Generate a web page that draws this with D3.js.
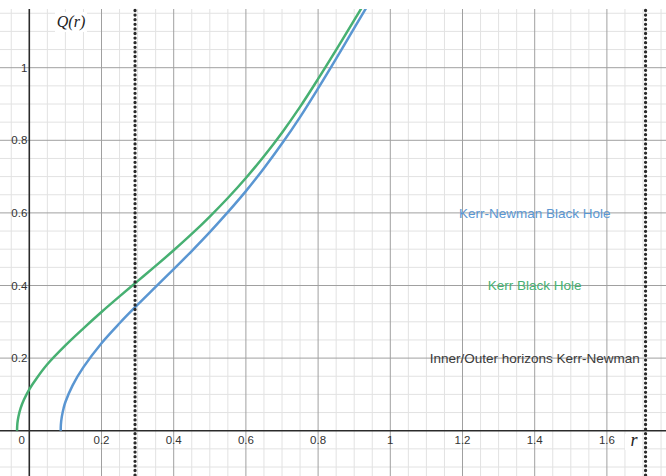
<!DOCTYPE html>
<html>
<head>
<meta charset="utf-8">
<script src="https://cdn.jsdelivr.net/npm/d3@7"></script>
<style>
  html, body { margin: 0; padding: 0; background: #fff; }
  svg { display: block; }
</style>
</head>
<body>
<svg id="chart" width="666" height="476"></svg>
<script>
// ---- data ----
const kerrR  = [-0.034, -0.033, -0.030, -0.024, -0.015, 0.000, 0.020, 0.050, 0.100, 0.150, 0.200, 0.250, 0.300, 0.350, 0.400, 0.450, 0.500, 0.550, 0.600, 0.650, 0.700, 0.750, 0.800, 0.850, 0.900, 0.940];
const kerrQ  = [0.000, 0.020, 0.039, 0.062, 0.085, 0.114, 0.144, 0.183, 0.235, 0.282, 0.327, 0.370, 0.412, 0.454, 0.497, 0.542, 0.590, 0.641, 0.696, 0.756, 0.821, 0.892, 0.969, 1.049, 1.131, 1.197];
const knR    = [0.087, 0.0875, 0.090, 0.095, 0.100, 0.120, 0.150, 0.200, 0.250, 0.300, 0.350, 0.400, 0.450, 0.500, 0.550, 0.600, 0.650, 0.700, 0.750, 0.800, 0.850, 0.900, 0.940];
const knQ    = [0.000, 0.017, 0.038, 0.062, 0.079, 0.125, 0.175, 0.241, 0.296, 0.347, 0.396, 0.445, 0.495, 0.547, 0.602, 0.660, 0.723, 0.791, 0.864, 0.943, 1.025, 1.109, 1.176];
const horizons = [0.2929, 1.7071];
const xTicks = [0.2, 0.4, 0.6, 0.8, 1, 1.2, 1.4, 1.6];
const yTicks = [0.2, 0.4, 0.6, 0.8, 1];
const noteText  = ["Kerr-Newman Black Hole", "Kerr Black Hole", "Inner/Outer horizons Kerr-Newman"];
const noteR     = [1.4, 1.4, 1.4];
const noteQ     = [0.6, 0.4, 0.2];
const noteColor = ["#5a96d2", "#47b072", "#3a3a3a"];

// ---- layout ----
const W = 666, H = 476;
const plotTop = 9;
const x0px = 29.3, y0px = 430.7;
const kx = 361, ky = 363;
const x = d3.scaleLinear().domain([-x0px / kx, (W - x0px) / kx]).range([0, W]);
const y = d3.scaleLinear().domain([(y0px - H) / ky, (y0px - plotTop) / ky]).range([H, plotTop]);

const svg = d3.select("#chart");
const g = svg.append("g");

// grid
const minorX = d3.range(-0.05, 1.76, 0.05).map(v => +v.toFixed(2));
const minorY = d3.range(-0.1, 1.16, 0.05).map(v => +v.toFixed(2));
const isMajor = v => Math.abs(v / 0.2 - Math.round(v / 0.2)) < 1e-6 && Math.abs(v) > 1e-6;

g.append("g").selectAll("line").data(minorX.filter(v => !isMajor(v) && Math.abs(v) > 1e-6)).join("line")
  .attr("x1", d => x(d)).attr("x2", d => x(d)).attr("y1", plotTop).attr("y2", H)
  .attr("stroke", "#e2e2e2").attr("stroke-width", 1);
g.append("g").selectAll("line").data(minorY.filter(v => !isMajor(v) && Math.abs(v) > 1e-6)).join("line")
  .attr("y1", d => y(d)).attr("y2", d => y(d)).attr("x1", 0).attr("x2", W)
  .attr("stroke", "#e2e2e2").attr("stroke-width", 1);
g.append("g").selectAll("line").data(minorX.filter(isMajor)).join("line")
  .attr("x1", d => x(d)).attr("x2", d => x(d)).attr("y1", plotTop).attr("y2", H)
  .attr("stroke", "#a0a0a0").attr("stroke-width", 1);
g.append("g").selectAll("line").data(minorY.filter(isMajor)).join("line")
  .attr("y1", d => y(d)).attr("y2", d => y(d)).attr("x1", 0).attr("x2", W)
  .attr("stroke", "#a0a0a0").attr("stroke-width", 1);

// axes
g.append("line").attr("x1", 0).attr("x2", W).attr("y1", y(0)).attr("y2", y(0))
  .attr("stroke", "#2b2b2b").attr("stroke-width", 1.6);
g.append("line").attr("x1", x(0)).attr("x2", x(0)).attr("y1", plotTop).attr("y2", H)
  .attr("stroke", "#2b2b2b").attr("stroke-width", 1.6);

// tick labels
const tickFont = "Arial, 'Liberation Sans', sans-serif";
g.append("g").selectAll("text").data(xTicks).join("text")
  .attr("x", d => x(d)).attr("y", y(0) + 13)
  .attr("text-anchor", "middle").attr("font-family", tickFont).attr("font-size", 11.5)
  .attr("fill", "#333").text(d => d3.format("~g")(d));
g.append("text").attr("x", x(0) - 7.5).attr("y", y(0) + 13)
  .attr("text-anchor", "middle").attr("font-family", tickFont).attr("font-size", 11.5)
  .attr("fill", "#333").text("0");
g.append("g").selectAll("text").data(yTicks).join("text")
  .attr("x", x(0) - 2).attr("y", d => y(d)).attr("dy", "0.35em")
  .attr("text-anchor", "end").attr("font-family", tickFont).attr("font-size", 11.5)
  .attr("fill", "#333").text(d => d3.format("~g")(d));

// curves
const lineRQ = d3.line().x(d => x(d[0])).y(d => y(d[1])).curve(d3.curveCatmullRom.alpha(0.5));
svg.append("clipPath").attr("id", "plotclip").append("rect")
  .attr("x", 0).attr("y", plotTop).attr("width", W).attr("height", H - plotTop);
g.append("path").datum(kerrR.map((r, i) => [r, kerrQ[i]]))
  .attr("d", lineRQ).attr("fill", "none").attr("stroke", "#47b072").attr("stroke-width", 2.5)
  .attr("clip-path", "url(#plotclip)");
g.append("path").datum(knR.map((r, i) => [r, knQ[i]]))
  .attr("d", lineRQ).attr("fill", "none").attr("stroke", "#5a96d2").attr("stroke-width", 2.5)
  .attr("clip-path", "url(#plotclip)");

// horizons (dotted verticals)
g.append("g").selectAll("line").data(horizons).join("line")
  .attr("x1", d => x(d)).attr("x2", d => x(d)).attr("y1", plotTop + 1.5).attr("y2", H)
  .attr("stroke", "#2a2a2a").attr("stroke-width", 3.3).attr("stroke-linecap", "round")
  .attr("stroke-dasharray", "0 4.6");

// notes
g.append("g").selectAll("text").data(noteText).join("text")
  .attr("x", (d, i) => x(noteR[i])).attr("y", (d, i) => y(noteQ[i])).attr("dy", "0.35em")
  .attr("text-anchor", "middle").attr("font-family", tickFont).attr("font-size", 13.5)
  .attr("fill", (d, i) => noteColor[i]).text(d => d);

// axis titles with white backing
const serif = "'Times New Roman', 'Liberation Serif', 'DejaVu Serif', serif";
g.append("rect").attr("x", 55).attr("y", 12).attr("width", 32).attr("height", 20).attr("fill", "#fff");
g.append("text").attr("x", 71).attr("y", 27).attr("text-anchor", "middle")
  .attr("font-family", serif).attr("font-style", "italic").attr("font-size", 16).attr("fill", "#222")
  .text("Q(r)");
g.append("rect").attr("x", 625).attr("y", 434).attr("width", 17).attr("height", 16).attr("fill", "#fff");
g.append("text").attr("x", 634).attr("y", 446).attr("text-anchor", "middle")
  .attr("font-family", serif).attr("font-style", "italic").attr("font-size", 18).attr("fill", "#222")
  .text("r");
</script>
</body>
</html>
